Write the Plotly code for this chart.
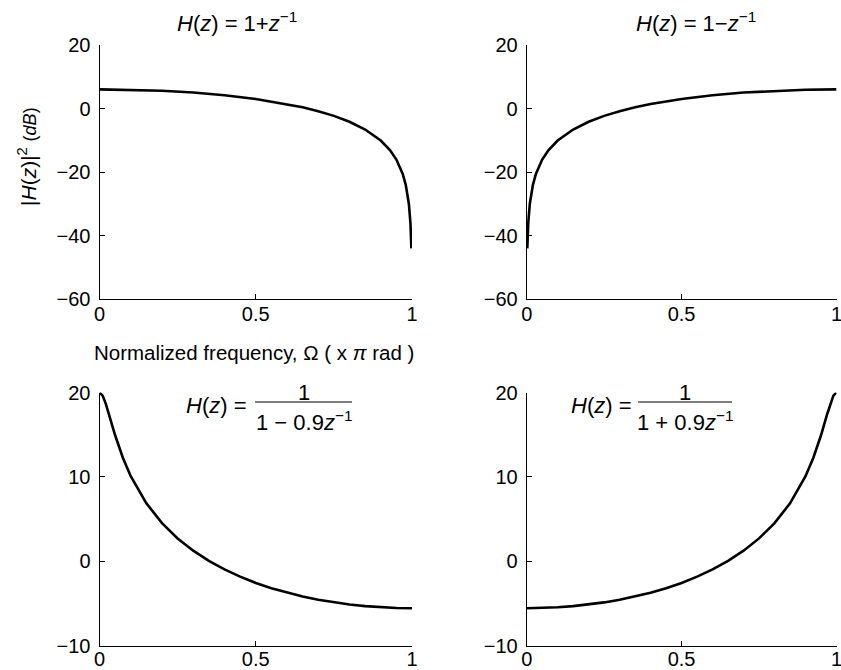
import plotly.graph_objects as go

# Normalized frequency samples (x pi rad)
x_hp_lp = [0, 0.1, 0.2, 0.3, 0.4, 0.5, 0.6, 0.65, 0.7, 0.75, 0.8, 0.85, 0.9, 0.93, 0.95, 0.97, 0.98, 0.99, 0.995, 0.998]
# H(z) = 1 + z^-1, |H|^2 in dB
y_tl = [6.02, 5.91, 5.58, 5.02, 4.18, 3.01, 1.40, 0.38, -0.84, -2.32, -4.18, -6.62, -10.09, -13.17, -16.09, -20.52, -24.04, -30.06, -36.08, -44.04]
# H(z) = 1 - z^-1
x_tr = [0.002, 0.005, 0.01, 0.02, 0.03, 0.05, 0.07, 0.1, 0.15, 0.2, 0.25, 0.3, 0.35, 0.4, 0.5, 0.6, 0.7, 0.8, 0.9, 1.0]
y_tr = [-44.04, -36.08, -30.06, -24.04, -20.52, -16.09, -13.17, -10.09, -6.62, -4.18, -2.32, -0.84, 0.38, 1.40, 3.01, 4.18, 5.02, 5.58, 5.91, 6.02]

x_bl = [0, 0.01, 0.02, 0.03, 0.05, 0.075, 0.1, 0.15, 0.2, 0.25, 0.3, 0.35, 0.4, 0.45, 0.5, 0.55, 0.6, 0.65, 0.7, 0.75, 0.8, 0.85, 0.9, 0.95, 1.0]
# H(z) = 1/(1 - 0.9 z^-1)
y_bl = [20.0, 19.63, 18.68, 17.45, 14.93, 12.24, 10.08, 6.86, 4.51, 2.70, 1.24, 0.03, -0.98, -1.84, -2.58, -3.20, -3.74, -4.19, -4.58, -4.89, -5.14, -5.33, -5.47, -5.55, -5.58]
# H(z) = 1/(1 + 0.9 z^-1)
x_br = [0, 0.05, 0.1, 0.15, 0.2, 0.25, 0.3, 0.35, 0.4, 0.45, 0.5, 0.55, 0.6, 0.65, 0.7, 0.75, 0.8, 0.85, 0.9, 0.925, 0.95, 0.97, 0.98, 0.99, 1.0]
y_br = [-5.58, -5.55, -5.47, -5.33, -5.14, -4.89, -4.58, -4.19, -3.74, -3.20, -2.58, -1.84, -0.98, 0.03, 1.24, 2.70, 4.51, 6.86, 10.08, 12.24, 14.93, 17.45, 18.68, 19.63, 20.0]

x_ticks = [0, 0.5, 1]
x_tick_text = ["0", "0.5", "1"]
top_y_ticks = [-60, -40, -20, 0, 20]
top_y_text = ["\u221260", "\u221240", "\u221220", "0", "20"]
bot_y_ticks = [-10, 0, 10, 20]
bot_y_text = ["\u221210", "0", "10", "20"]

OFF = 0  # page body margin removed by post_script
W, H = 841, 670
FONT = "Liberation Sans, Arial, Helvetica, sans-serif"

def px_x(p):
    return (p - OFF) / W

def px_y(p):
    return 1 - (p - OFF) / H

fig = go.Figure()
line = dict(color="black", width=2.6)
fig.add_trace(go.Scatter(x=x_hp_lp, y=y_tl, mode="lines", line=line, xaxis="x", yaxis="y"))
fig.add_trace(go.Scatter(x=x_tr, y=y_tr, mode="lines", line=line, xaxis="x2", yaxis="y2"))
fig.add_trace(go.Scatter(x=x_bl, y=y_bl, mode="lines", line=line, xaxis="x3", yaxis="y3"))
fig.add_trace(go.Scatter(x=x_br, y=y_br, mode="lines", line=line, xaxis="x4", yaxis="y4"))

xl = [px_x(99.5), px_x(412)]
xr = [px_x(526.7), px_x(836.5)]
yt = [px_y(299), px_y(45)]
yb = [px_y(645.5), px_y(392.5)]

def xax(dom, anchor, standoff):
    return dict(domain=dom, anchor=anchor, range=[0, 1], tickvals=x_ticks, ticktext=x_tick_text,
                showline=True, linecolor="black", linewidth=1, ticks="inside", ticklen=5,
                tickcolor="black", showgrid=False, zeroline=False, automargin=False,
                ticklabelstandoff=standoff, ticklabeloverflow="allow",
                tickfont=dict(family=FONT, size=20, color="black"))

def yax(dom, anchor, rng, tv, tt):
    return dict(domain=dom, anchor=anchor, range=rng, tickvals=tv, ticktext=tt,
                showline=True, linecolor="black", linewidth=1, ticks="inside", ticklen=5,
                tickcolor="black", showgrid=False, zeroline=False, automargin=False,
                ticklabelstandoff=4, ticklabeloverflow="allow",
                tickfont=dict(family=FONT, size=20, color="black"))

fig.update_layout(
    width=W, height=H,
    margin=dict(l=0, r=0, t=0, b=0, pad=0),
    paper_bgcolor="white", plot_bgcolor="white",
    showlegend=False,
    xaxis=xax(xl, "y", -3), yaxis=yax(yt, "x", [-60, 20], top_y_ticks, top_y_text),
    xaxis2=xax(xr, "y2", -3), yaxis2=yax(yt, "x2", [-60, 20], top_y_ticks, top_y_text),
    xaxis3=xax(xl, "y3", -5), yaxis3=yax(yb, "x3", [-10, 20], bot_y_ticks, bot_y_text),
    xaxis4=xax(xr, "y4", -5), yaxis4=yax(yb, "x4", [-10, 20], bot_y_ticks, bot_y_text),
)

tf = dict(family=FONT, size=22, color="black")
ann = []
ann.append(dict(text="<i>H</i>(<i>z</i>) = 1+<i>z</i><sup>\u22121</sup>", x=px_x(237), y=px_y(22),
                xref="paper", yref="paper", showarrow=False, font=tf, xanchor="center", yanchor="middle"))
ann.append(dict(text="<i>H</i>(<i>z</i>) = 1\u2212<i>z</i><sup>\u22121</sup>", x=px_x(696), y=px_y(22),
                xref="paper", yref="paper", showarrow=False, font=tf, xanchor="center", yanchor="middle"))
# y-axis label
ann.append(dict(text="|<i>H</i>(<i>z</i>)|<sup>2</sup> <span style='font-size:18px'>(<i>dB</i>)</span>",
                x=px_x(27), y=px_y(157), xref="paper", yref="paper", showarrow=False, textangle=-90,
                font=dict(family=FONT, size=21, color="black"), xanchor="center", yanchor="middle"))
# x-axis label
ann.append(dict(text="Normalized frequency, \u03a9 ( x <i>\u03c0</i> rad )", x=px_x(254), y=px_y(352),
                xref="paper", yref="paper", showarrow=False,
                font=dict(family=FONT, size=20.5, color="black"), xanchor="center", yanchor="middle"))

def frac(lhs_cx, line_x0, line_x1, ly, den):
    cx = (line_x0 + line_x1) / 2
    ann.append(dict(text="<i>H</i>(<i>z</i>) =", x=px_x(lhs_cx), y=px_y(ly + 3), xref="paper", yref="paper",
                    showarrow=False, font=tf, xanchor="center", yanchor="middle"))
    ann.append(dict(text="1", x=px_x(cx), y=px_y(ly - 10), xref="paper", yref="paper",
                    showarrow=False, font=tf, xanchor="center", yanchor="middle"))
    ann.append(dict(text=den, x=px_x(cx), y=px_y(ly + 19), xref="paper", yref="paper",
                    showarrow=False, font=tf, xanchor="center", yanchor="middle"))
    fig.add_shape(type="line", xref="paper", yref="paper", x0=px_x(line_x0), x1=px_x(line_x1),
                  y0=px_y(ly), y1=px_y(ly), line=dict(color="black", width=1.2))

frac(216, 255, 352, 402, "1 \u2212 0.9<i>z</i><sup>\u22121</sup>")
frac(601, 638, 732, 402, "1 + 0.9<i>z</i><sup>\u22121</sup>")

fig.update_layout(annotations=ann)
fig.write_html("out.html", config={"displayModeBar": False},
               post_script="document.body.style.margin='0';document.body.style.overflow='hidden';")
